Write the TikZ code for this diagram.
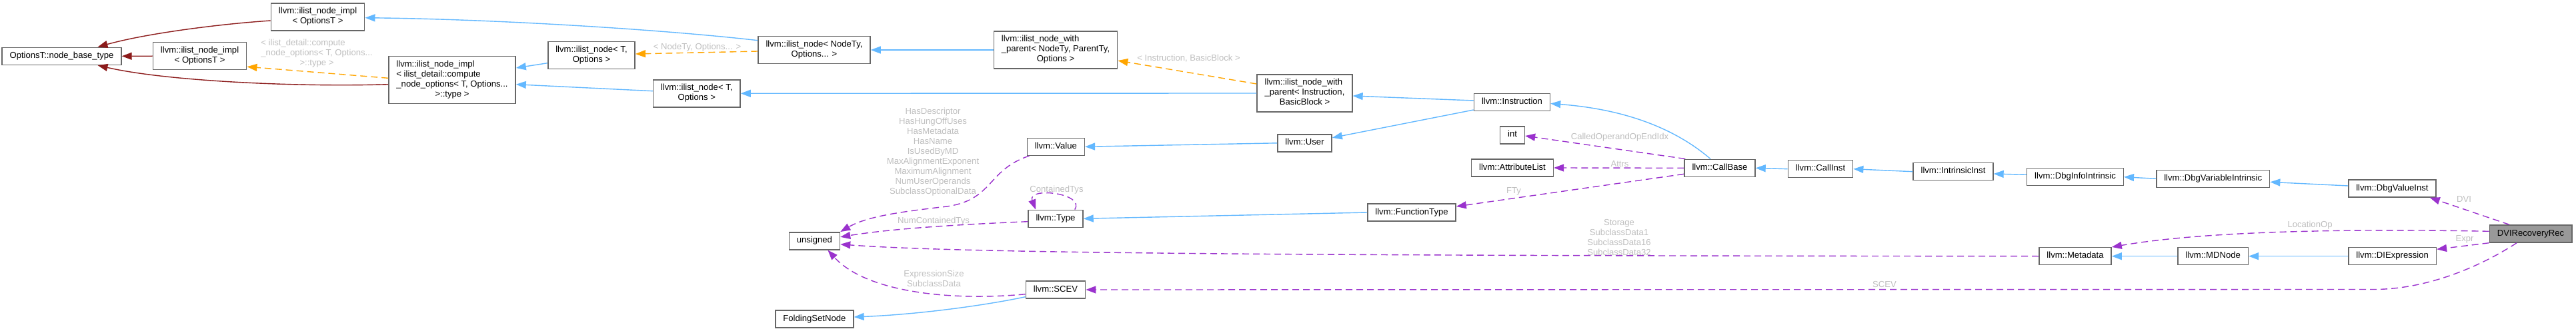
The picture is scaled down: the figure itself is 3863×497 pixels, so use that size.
\documentclass[tikz,border=0pt]{standalone}
\usepackage{fontspec}
\setmainfont{Liberation Sans}
\usetikzlibrary{arrows.meta}

\definecolor{inhblue}{HTML}{63B8FF}
\definecolor{privred}{HTML}{8B1A1A}
\definecolor{tmplorange}{HTML}{FFA500}
\definecolor{usepurple}{HTML}{9A32CD}
\definecolor{lblgrey}{HTML}{BEBEBE}
\definecolor{boxgrey}{HTML}{666666}
\definecolor{rootgrey}{HTML}{999999}

% lines left aligned, last line centred
\newcommand{\mlines}[1]{\begin{tabular}{@{}l@{}}#1\end{tabular}}
\newcommand{\lastln}[1]{\multicolumn{1}{@{}c@{}}{#1}}

\begin{document}
\begin{tikzpicture}[x=1pt, y=-1pt,
  font=\fontsize{13.1pt}{15pt}\selectfont,
  cls/.style={rectangle, draw=boxgrey, fill=white, line width=1.5pt, inner xsep=11.5pt, inner ysep=5.5pt, text height=10.5pt, text depth=4.5pt},
  clsm/.style={rectangle, draw=boxgrey, fill=white, line width=1.5pt, inner xsep=11.5pt, inner ysep=5.5pt},
  lbl/.style={text=lblgrey, inner sep=0pt, align=center},
  headtip/.style={-{Triangle[length=15pt, width=11pt]}},
  pubinh/.style={draw=inhblue, line width=1.4pt, headtip},
  privinh/.style={draw=privred, line width=1.4pt, headtip},
  tmpl/.style={draw=tmplorange, line width=1.4pt, dash pattern=on 10pt off 6pt, headtip},
  usage/.style={draw=usepurple, line width=1.4pt, dash pattern=on 10pt off 6pt, headtip},
]
\useasboundingbox (0,0) rectangle (3863,497);

% classes
\node[cls] (nbt) at (92.5,84.3) {OptionsT::node\_base\_type};
\node[clsm] (implTop) at (476.6,25.3) {\mlines{llvm::ilist\_node\_impl\\\lastln{< OptionsT >}}};
\node[clsm] (implMid) at (299.6,84.2) {\mlines{llvm::ilist\_node\_impl\\\lastln{< OptionsT >}}};
\node[clsm] (implBig) at (678,120) {\mlines{llvm::ilist\_node\_impl\\< ilist\_detail::compute\\\_node\_options< T, Options...\\\lastln{>::type >}}};
\node[clsm] (listTup) at (887,83) {\mlines{llvm::ilist\_node< T,\\\lastln{Options >}}};
\node[clsm] (listTlow) at (1044.8,140.3) {\mlines{llvm::ilist\_node< T,\\\lastln{Options >}}};
\node[clsm] (listNodeTy) at (1221,75) {\mlines{llvm::ilist\_node< NodeTy,\\\lastln{Options... >}}};
\node[clsm] (withParGen) at (1583,75) {\mlines{llvm::ilist\_node\_with\\\_parent< NodeTy, ParentTy,\\\lastln{Options >}}};
\node[clsm] (withParInst) at (1956.5,140) {\mlines{llvm::ilist\_node\_with\\\_parent< Instruction,\\\lastln{BasicBlock >}}};
\node[cls] (instr) at (2267.5,153.5) {llvm::Instruction};
\node[cls] (user) at (1956.5,214.8) {llvm::User};
\node[cls] (intT) at (2268,203) {int};
\node[cls] (attrList) at (2268,252) {llvm::AttributeList};
\node[cls] (funcType) at (2117,319) {llvm::FunctionType};
\node[cls] (value) at (1583.3,220.3) {llvm::Value};
\node[cls] (type) at (1583,328.3) {llvm::Type};
\node[cls] (unsignedT) at (1221.4,361.8) {unsigned};
\node[cls] (scev) at (1583,435) {llvm::SCEV};
\node[cls] (folding) at (1221.4,479) {FoldingSetNode};
\node[cls] (callBase) at (2579,252.3) {llvm::CallBase};
\node[cls] (callInst) at (2730,253.7) {llvm::CallInst};
\node[cls] (intrInst) at (2929,257.7) {llvm::IntrinsicInst};
\node[cls] (dbgInfo) at (3112,265.7) {llvm::DbgInfoIntrinsic};
\node[cls] (dbgVar) at (3318.7,268.3) {llvm::DbgVariableIntrinsic};
\node[cls] (dbgValue) at (3587.4,283) {llvm::DbgValueInst};
\node[cls] (metadata) at (3112,384.7) {llvm::Metadata};
\node[cls] (mdNode) at (3318.7,384.7) {llvm::MDNode};
\node[cls] (diExpr) at (3587.6,384.7) {llvm::DIExpression};
\node[cls, fill=rootgrey] (dviRec) at (3795,351) {DVIRecoveryRec};

% edge labels
\node[lbl] (lbImpl) at (475,81) {\mlines{< ilist\_detail::compute\\\_node\_options< T, Options...\\\lastln{>::type >}}};
\node[lbl] (lbNodeTy) at (1045.5,71) {< NodeTy, Options... >};
\node[lbl] (lbInstBB) at (1782.6,87.7) {< Instruction, BasicBlock >};
\node[lbl] (lbValue) at (1399,228) {HasDescriptor\\HasHungOffUses\\HasMetadata\\HasName\\IsUsedByMD\\MaxAlignmentExponent\\MaximumAlignment\\NumUserOperands\\SubclassOptionalData};
\node[lbl] (lbNumCT) at (1400,332) {NumContainedTys};
\node[lbl] (lbCT) at (1584.5,284.7) {ContainedTys};
\node[lbl] (lbExprSize) at (1400.4,418) {ExpressionSize\\SubclassData};
\node[lbl] (lbCalled) at (2429,205.7) {CalledOperandOpEndIdx};
\node[lbl] (lbAttrs) at (2429,245.7) {Attrs};
\node[lbl] (lbFTy) at (2270,287) {FTy};
\node[lbl] (lbStorage) at (2428,356.5) {Storage\\SubclassData1\\SubclassData16\\SubclassData32};
\node[lbl] (lbSCEV) at (2826,427) {SCEV};
\node[lbl] (lbDVI) at (3695,299.3) {DVI};
\node[lbl] (lbLoc) at (3464,337.7) {LocationOp};
\node[lbl] (lbExpr) at (3696,359.5) {Expr};

% connectors
\draw[privinh] ([yshift=-5.7pt]implTop.west) .. controls (330,36) and (220,50) .. ([xshift=54pt]nbt.north);
\draw[privinh] (implMid.west) -- (nbt.east);
\draw[privinh] ([yshift=-6.7pt]implBig.west) .. controls (450,131) and (250,122) .. ([xshift=54pt]nbt.south);
\draw[tmpl] ([yshift=2.7pt]implBig.west) -- ([yshift=-16pt]implMid.east);
\draw[pubinh] ([yshift=-11.7pt]listTup.west) -- ([yshift=18pt]implBig.east);
\draw[pubinh] ([yshift=3.6pt]listTlow.west) -- ([yshift=-6.7pt]implBig.east);
\draw[tmpl] ([yshift=-2pt]listNodeTy.west) -- ([yshift=2pt]listTup.east);
\draw[pubinh] ([yshift=14.3pt]listNodeTy.west) .. controls (1000,45) and (750,29) .. ([yshift=-1.4pt]implTop.east);
\draw[pubinh] (withParGen.west) -- (listNodeTy.east);
\draw[tmpl] ([yshift=14pt]withParInst.west) -- ([yshift=-16pt]withParGen.east);
\draw[pubinh] (withParInst.west) -- (listTlow.east);
\draw[pubinh] ([yshift=2.5pt]instr.west) -- ([yshift=-4pt]withParInst.east);
\draw[pubinh] ([yshift=-11.5pt]instr.west) -- ([yshift=8pt]user.east);
\draw[pubinh] (user.west) -- (value.east);
\draw[pubinh] (funcType.west) -- (type.east);
\draw[pubinh] ([xshift=-14pt]callBase.north) .. controls (2520,200) and (2450,165) .. ([yshift=-2pt]instr.east);
\draw[usage] ([xshift=2pt]callBase.north west) -- ([yshift=-1pt]intT.east);
\draw[usage] (callBase.west) -- (attrList.east);
\draw[usage] ([yshift=-9pt]callBase.west) -- ([yshift=9pt]funcType.east);
\draw[pubinh] (callInst.west) -- (callBase.east);
\draw[pubinh] (intrInst.west) -- (callInst.east);
\draw[pubinh] ([yshift=3.4pt]dbgInfo.west) -- ([yshift=-3.3pt]intrInst.east);
\draw[pubinh] (dbgVar.west) -- (dbgInfo.east);
\draw[pubinh] ([yshift=4pt]dbgValue.west) -- ([yshift=-5pt]dbgVar.east);
\draw[usage] ([xshift=-32pt]dviRec.north) -- ([xshift=-10pt]dbgValue.south east);
\draw[usage] ([yshift=3.7pt]dviRec.west) .. controls (3500,343) and (3300,348) .. (metadata.north east);
\draw[usage] (dviRec.south west) -- ([yshift=10.4pt]diExpr.east);
\draw[usage] ([xshift=-21pt]dviRec.south) .. controls (3720,400) and (3640,434.5) .. (3560,434.5) -- (scev.east);
\draw[pubinh] (diExpr.west) -- (mdNode.east);
\draw[pubinh] (mdNode.west) -- (metadata.east);
\draw[usage] (metadata.west) .. controls (2000,384) and (1450,381) .. ([yshift=-5pt]unsignedT.east);
\draw[usage] ([yshift=-4.4pt]type.west) .. controls (1440,337) and (1340,343) .. ([yshift=6pt]unsignedT.east);
\draw[usage] ([xshift=4pt]value.south west) .. controls (1480,255) and (1490,300) .. (1420,310) .. controls (1350,318) and (1300,325) .. (unsignedT.north east);
\draw[usage] ([xshift=28.7pt]type.north) .. controls (1628,290) and (1540,280) .. ([xshift=-30pt]type.north);
\draw[usage] ([yshift=-6.7pt]scev.west) .. controls (1430,452) and (1300,440) .. ([xshift=20pt]unsignedT.south);
\draw[pubinh] ([yshift=-10.7pt]scev.west) .. controls (1480,458) and (1380,472) .. ([yshift=3pt]folding.east);
\end{tikzpicture}
\end{document}
